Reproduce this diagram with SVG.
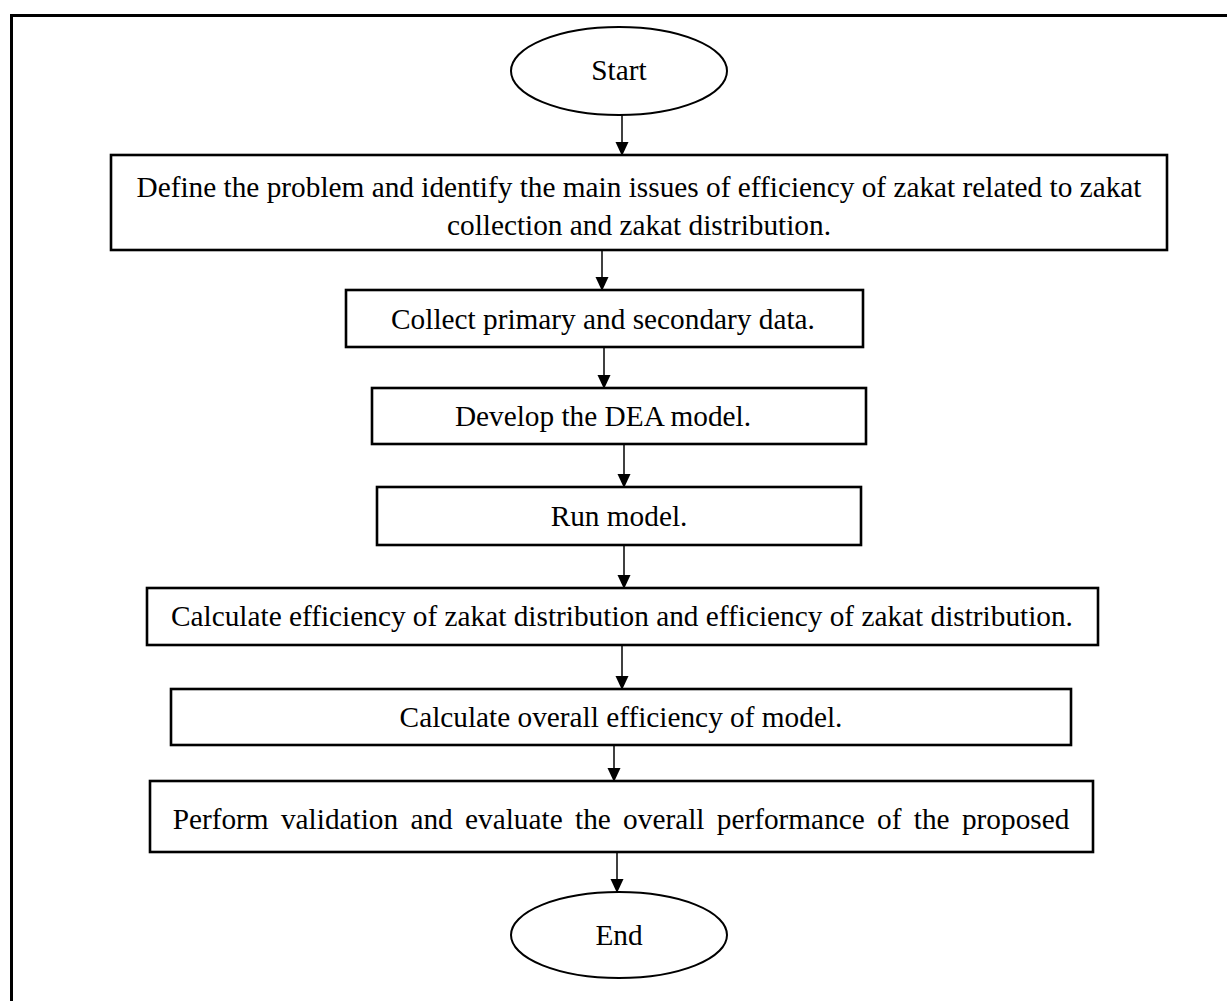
<svg xmlns="http://www.w3.org/2000/svg" width="1227" height="1001" viewBox="0 0 1227 1001">
  <style>
    .box { fill: #fff; stroke: #000; stroke-width: 2.6; }
    .term { fill: #fff; stroke: #000; stroke-width: 2; }
    .lbl { font-family: "Liberation Serif", "Times New Roman", serif; font-size: 29.3px; fill: #000; text-anchor: middle; }
    .edge { stroke: #000; stroke-width: 1.5; fill: none; marker-end: url(#arrow); }
    .frame { stroke: #000; stroke-width: 3; fill: none; }
  </style>
  <defs>
    <marker id="arrow" markerWidth="14" markerHeight="15" refX="14" refY="7" orient="auto" markerUnits="userSpaceOnUse" viewBox="0 0 15 14">
      <path d="M0,0 L15,7 L0,14 Z" fill="#000"/>
    </marker>
  </defs>

  <rect width="1227" height="1001" fill="#fff"/>
  <!-- page frame: top and left rules -->
  <path class="frame" d="M11.5,1001 V15.5 H1227"/>

  <g id="connectors">
    <line class="edge" x1="622" y1="115" x2="622" y2="155"/>
    <line class="edge" x1="602" y1="250" x2="602" y2="290"/>
    <line class="edge" x1="604" y1="347" x2="604" y2="388"/>
    <line class="edge" x1="624" y1="444" x2="624" y2="487"/>
    <line class="edge" x1="624" y1="545" x2="624" y2="588"/>
    <line class="edge" x1="622" y1="645" x2="622" y2="689"/>
    <line class="edge" x1="614" y1="745" x2="614" y2="781"/>
    <line class="edge" x1="617" y1="852" x2="617" y2="892"/>
  </g>

  <g id="start">
    <ellipse class="term" cx="619" cy="71" rx="108" ry="44"/>
    <text class="lbl" x="619" y="80">Start</text>
  </g>

  <g id="define-problem">
    <rect class="box" x="111" y="155" width="1056" height="95"/>
    <text class="lbl" x="639" y="197">Define the problem and identify the main issues of efficiency of zakat related to zakat</text>
    <text class="lbl" x="639" y="235">collection and zakat distribution.</text>
  </g>

  <g id="collect-data">
    <rect class="box" x="346" y="290" width="517" height="57"/>
    <text class="lbl" x="603" y="329">Collect primary and secondary data.</text>
  </g>

  <g id="develop-model">
    <rect class="box" x="372" y="388" width="494" height="56"/>
    <text class="lbl" x="603" y="426">Develop the DEA model.</text>
  </g>

  <g id="run-model">
    <rect class="box" x="377" y="487" width="484" height="58"/>
    <text class="lbl" x="619" y="526">Run model.</text>
  </g>

  <g id="calc-efficiency">
    <rect class="box" x="147" y="588" width="951" height="57"/>
    <text class="lbl" x="622" y="626">Calculate efficiency of zakat distribution and efficiency of zakat distribution.</text>
  </g>

  <g id="calc-overall">
    <rect class="box" x="171" y="689" width="900" height="56"/>
    <text class="lbl" x="621" y="727">Calculate overall efficiency of model.</text>
  </g>

  <g id="validate">
    <rect class="box" x="150" y="781" width="943" height="71"/>
    <text class="lbl" x="621" y="829" word-spacing="5">Perform validation and evaluate the overall performance of the proposed</text>
  </g>

  <g id="end">
    <ellipse class="term" cx="619" cy="935" rx="108" ry="43"/>
    <text class="lbl" x="619" y="945">End</text>
  </g>
</svg>
